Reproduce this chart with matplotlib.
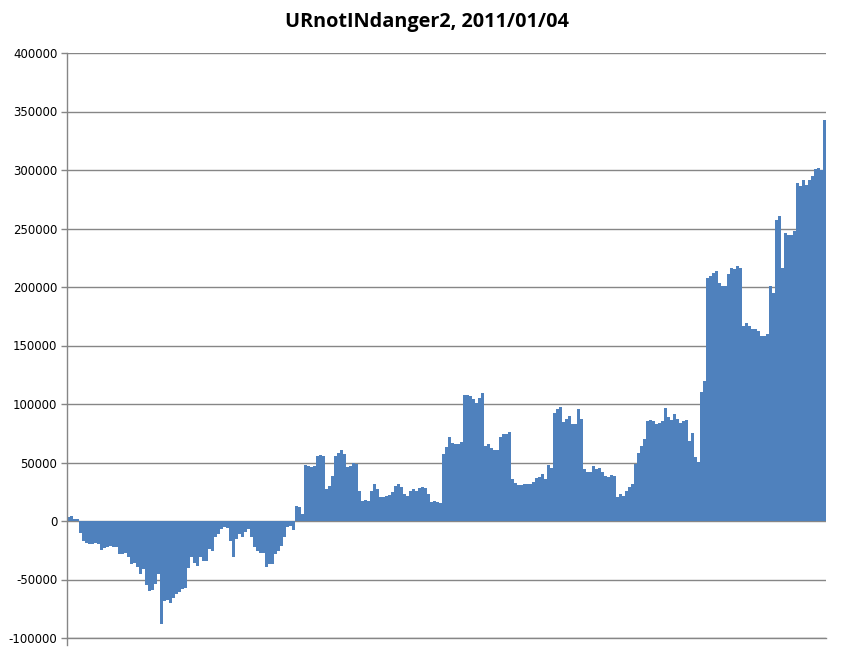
import numpy as np
import matplotlib
matplotlib.use("Agg")
import matplotlib.pyplot as plt

# --- data: running balance per trade ---
title = "URnotINdanger2, 2011/01/04"

balance = [
    3000, 4000, 2000, 2000, -10000, -17000, -19000, -20000, -20000, -19000,
    -20000, -25000, -23000, -22000, -21000, -22500, -22500, -28000, -28500, -27000,
    -31000, -37000, -35500, -39500, -45000, -41000, -55000, -60000, -59000, -54000,
    -45000, -88000, -68000, -67500, -70000, -65500, -62000, -61000, -58500, -57000,
    -40000, -31000, -35500, -38500, -31000, -34000, -34500, -24000, -25500, -14000,
    -11500, -7000, -5500, -6000, -17000, -31000, -15500, -11000, -14000, -9500,
    -7000, -14000, -22500, -25500, -27000, -27500, -39500, -37000, -37000, -28500,
    -25500, -21000, -14000, -5500, -4000, -7500, 13000, 12000, 6000, 48000,
    47000, 46300, 47000, 55400, 56200, 55400, 27300, 30000, 38600, 55700,
    58500, 60500, 57000, 46300, 47000, 50000, 48500, 25800, 17300, 17900,
    17300, 25800, 32000, 27300, 20200, 20200, 21300, 22400, 24400, 30100,
    31500, 29000, 23000, 21600, 25800, 27500, 25800, 28100, 29000, 28100,
    23000, 16000, 17300, 16000, 15800, 56900, 63400, 71900, 66800, 65400,
    66000, 67400, 108100, 107800, 107000, 104100, 100700, 105000, 109200, 64000,
    65400, 62500, 61100, 61100, 71900, 74700, 74700, 76400, 35700, 32800,
    30600, 30600, 31700, 31400, 31700, 33400, 37000, 37900, 39900, 35700,
    47500, 45600, 92300, 95600, 97400, 85000, 86900, 89700, 83200, 82600,
    95400, 86900, 44300, 41500, 42300, 47200, 44300, 45200, 41500, 38600,
    37800, 39200, 38600, 20200, 23000, 21600, 25800, 28700, 31500, 48600,
    58500, 64200, 69900, 85500, 86600, 85500, 83200, 84100, 85500, 96800,
    88900, 86600, 91700, 86900, 84100, 85500, 86600, 68400, 75000, 55000,
    50800, 110000, 119800, 207900, 209300, 212100, 213600, 203600, 200800, 200800,
    210700, 216400, 215000, 217800, 216400, 166700, 169500, 166700, 164400, 163900,
    162400, 158200, 158200, 159600, 200800, 195100, 257000, 260400, 216400, 246200,
    244800, 244800, 247600, 288800, 286600, 291100, 287400, 291600, 295100, 301000,
    301300, 299600, 342800,
]
yticks = [-100000, -50000, 0, 50000, 100000, 150000, 200000, 250000, 300000, 350000, 400000]

bar_col = '#4F81BD'
grid_col = '#868686'

fig = plt.figure(figsize=(8.41, 6.56), dpi=100)
W, H = 841, 656
ax = fig.add_axes([67 / W, 1 - 638 / H, (826 - 67) / W, (638 - 53) / H])

x = np.arange(len(balance))
ax.bar(x, balance, width=1.0, color=bar_col, linewidth=0, antialiased=False, zorder=2)

ax.set_xlim(-0.5, len(balance) - 0.5)
ax.set_ylim(-100000, 400000)
ax.set_yticks(yticks)
ax.set_yticklabels([str(v) for v in yticks])
ax.set_xticks([])

ax.set_axisbelow(True)
ax.yaxis.grid(True, color=grid_col, linewidth=1.0)
# bottom gridline sits on the axes edge, draw it unclipped
ax.axhline(-100000, color=grid_col, linewidth=1.0, clip_on=False, zorder=1)
for s in ['top', 'right', 'bottom']:
    ax.spines[s].set_visible(False)
ax.spines['left'].set_color(grid_col)
ax.spines['left'].set_linewidth(1.0)
ax.spines['left'].set_bounds(-106000, 400000)
ax.tick_params(axis='y', direction='out', length=4, color=grid_col, width=1,
               labelsize=8.5, pad=3, labelcolor='black')

fig.text(427 / W, 1 - 22 / H, title, ha='center', va='center',
         fontsize=14.3, fontweight='bold', family=['Open Sans', 'DejaVu Sans'])

fig.savefig('out.png', dpi=100, facecolor='white')
